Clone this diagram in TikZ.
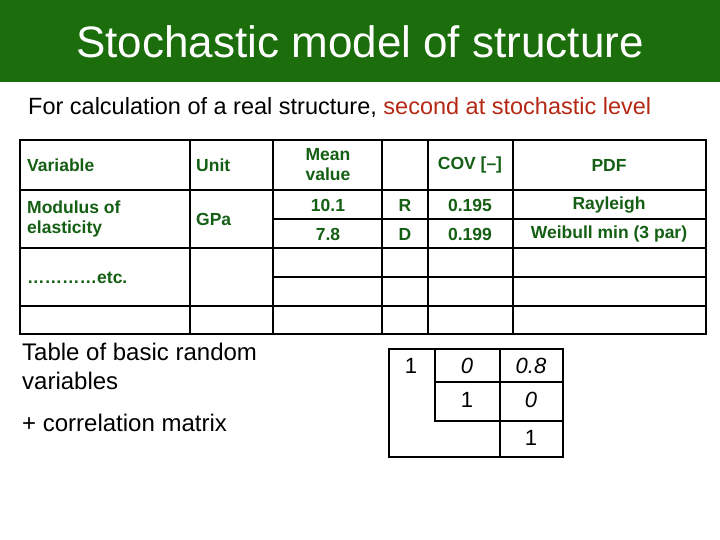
\documentclass[tikz,border=0pt]{standalone}
\usepackage{fontspec}
\setmainfont{Liberation Sans}
\definecolor{bar}{RGB}{28,110,12}
\definecolor{tg}{RGB}{20,95,20}
\definecolor{red2}{RGB}{180,40,20}
\begin{document}
\begin{tikzpicture}[x=1pt,y=-1pt,
  tt/.style={text=tg,font=\fontsize{17.5}{20}\selectfont\bfseries,align=center,inner sep=0},
  tl/.style={tt,anchor=west,align=left},
  grid/.style={line width=1.1pt},
  corrcell/.style={font=\fontsize{22}{24}\selectfont,inner sep=0}]
\useasboundingbox (0,0) rectangle (720,540);
\fill[white] (0,0) rectangle (720,540);
\fill[bar] (0,0) rectangle (720,82);
\node[text=white,font=\fontsize{44}{46}\selectfont] (title) at (360,42) {Stochastic model of structure};
\node[anchor=west,font=\fontsize{23.5}{26}\selectfont,inner sep=0] (sub) at (28,107) {For calculation of a real structure, \textcolor{red2}{second at stochastic level}};
% table grid
\draw[grid] (190,140) -- (190,334) (273,140) -- (273,334) (382,140) -- (382,334)
  (428,140) -- (428,334) (513,140) -- (513,334);
\draw[grid] (273,219) -- (706,219) (20,248) -- (706,248) (273,277) -- (706,277) (20,306) -- (706,306);
\draw[line width=2.5pt] (20,190) -- (706,190);
\draw[line width=2pt] (20,140) rectangle (706,334);
\node[tl] (v) at (27,165) {Variable};
\node[tl] (u) at (196,165) {Unit};
\node[tt] (m) at (328,165) {Mean\\value};
\node[tt] (c) at (470,165) {COV [–]};
\node[tt] (p) at (609,165) {PDF};
\node[tl] (mod) at (27,219) {Modulus of\\elasticity};
\node[tl] (gpa) at (196,219) {GPa};
\node[tt] (a1) at (328,205) {10.1};
\node[tt] (a2) at (405,205) {R};
\node[tt] (a3) at (470,205) {0.195};
\node[tt] (a4) at (609,205) {Rayleigh};
\node[tt] (b1) at (328,234) {7.8};
\node[tt] (b2) at (405,234) {D};
\node[tt] (b3) at (470,234) {0.199};
\node[tt] (b4) at (609,234) {Weibull min (3 par)};
\node[tl] (etc) at (27,278) {…………etc.};
\node[anchor=west,font=\fontsize{24}{29}\selectfont,align=left,inner sep=0] (tab) at (22,366) {Table of basic random\\variables};
\node[anchor=west,font=\fontsize{24}{26}\selectfont,inner sep=0] (corr) at (22,423) {+ correlation matrix};
% correlation matrix
\draw[line width=1.3pt] (389,349) rectangle (563,457)
  (435,349) -- (435,382) -- (563,382) (435,382) -- (435,421) -- (563,421)
  (500,349) -- (500,457);
\node[corrcell] (c11) at (411,366) {1};
\node[corrcell] (c12) at (467,366) {\itshape 0};
\node[corrcell] (c13) at (531,366) {\itshape 0.8};
\node[corrcell] (c22) at (467,400) {1};
\node[corrcell] (c23) at (531,400) {\itshape 0};
\node[corrcell] (c33) at (531,438) {1};
\end{tikzpicture}
\end{document}
